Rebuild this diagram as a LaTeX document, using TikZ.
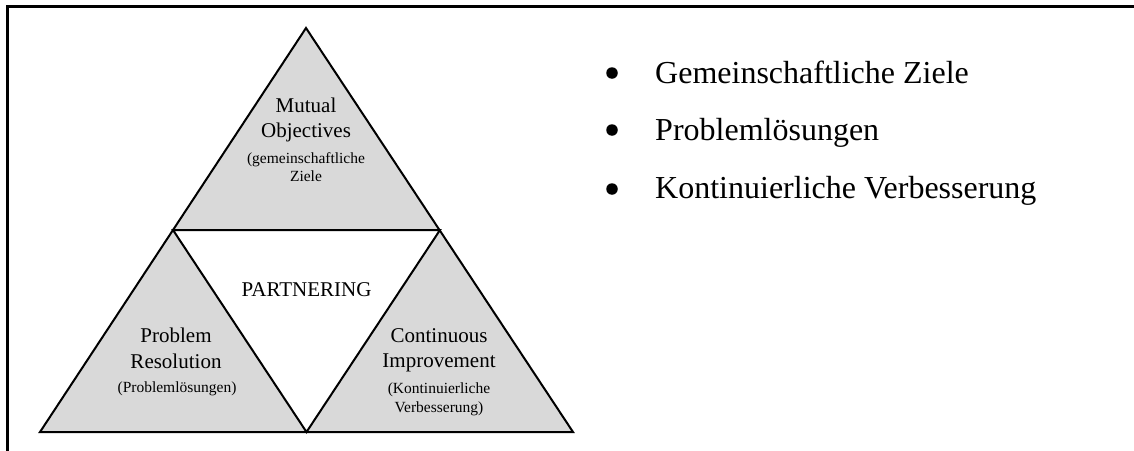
\documentclass[tikz,border=0pt]{standalone}
\usepackage{fontspec}
\setmainfont{Liberation Serif}
\definecolor{triGray}{HTML}{D9D9D9}
\begin{document}
\begin{tikzpicture}[x=1pt,y=-1pt,
  big/.style={font=\fontsize{21}{25}\selectfont, inner sep=0pt, anchor=base},
  small/.style={font=\fontsize{15.5}{18}\selectfont, inner sep=0pt, anchor=base},
  itemtext/.style={font=\fontsize{32}{38}\selectfont, inner sep=0pt, anchor=base west},
  bulletmark/.style={circle, fill=black, inner sep=0pt, minimum size=11.5pt},
  tri/.style={draw=black, line width=2pt, fill=triGray, line join=miter},
  innertri/.style={draw=black, line width=2pt, fill=white, line join=miter},
  frameline/.style={draw=black, line width=2.6pt, line join=miter}]
\useasboundingbox (0,0) rectangle (1134,450);
% frame
\coordinate (fbl) at (7.5,451);
\coordinate (ftl) at (7.5,6.7);
\coordinate (ftr) at (1135,6.7);
\draw[frameline] (fbl) -- (ftl) -- (ftr);
% triangles
\coordinate (A) at (306,28);
\coordinate (B) at (40,432);
\coordinate (C) at (573,432);
\coordinate (AB) at (173,230);
\coordinate (AC) at (440,230);
\coordinate (BC) at (306.5,432);
\path[tri] (A) -- (B) -- (C) -- cycle;
\path[innertri] (AB) -- (AC) -- (BC) -- cycle;
% top triangle text
\node[big] (mo1) at (306,112) {Mutual};
\node[big] (mo2) at (306,137) {Objectives};
\node[small] (mo3) at (306,163) {(gemeinschaftliche};
\node[small] (mo4) at (306,181) {Ziele};
% left triangle text
\node[big] (pr1) at (176,342) {Problem};
\node[big] (pr2) at (176,368) {Resolution};
\node[small] (pr3) at (177,392) {(Problemlösungen)};
% right triangle text
\node[big] (ci1) at (439,342) {Continuous};
\node[big] (ci2) at (439,367) {Improvement};
\node[small] (ci3) at (439,393) {(Kontinuierliche};
\node[small] (ci4) at (439,412) {Verbesserung)};
% centre
\node[big] (part) at (306.5,296) {PARTNERING};
% bullet list
\node[bulletmark] (b1) at (612,73) {};
\node[bulletmark] (b2) at (612,130) {};
\node[bulletmark] (b3) at (612,189) {};
\node[itemtext] (t1) at (655,83) {Gemeinschaftliche Ziele};
\node[itemtext] (t2) at (655,140) {Problemlösungen};
\node[itemtext] (t3) at (655,198) {Kontinuierliche Verbesserung};
\end{tikzpicture}
\end{document}
